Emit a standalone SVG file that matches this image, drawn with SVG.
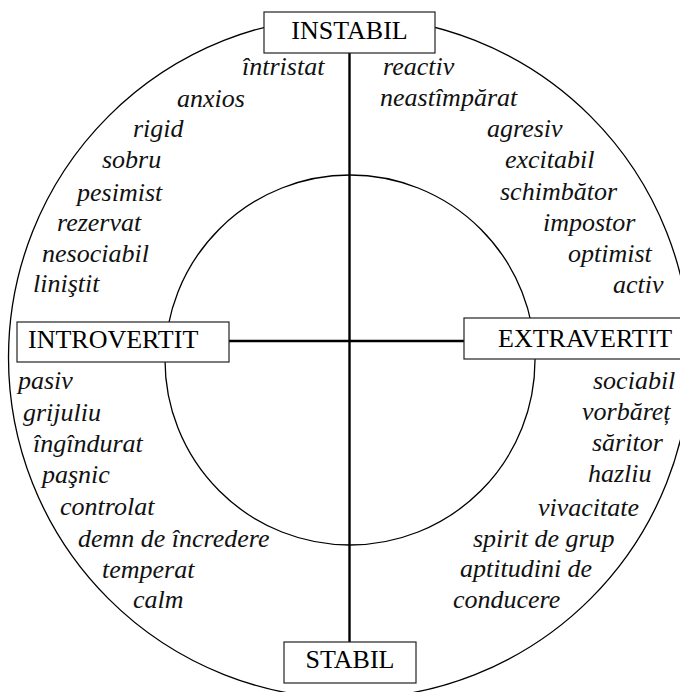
<svg xmlns="http://www.w3.org/2000/svg" width="680" height="692" viewBox="0 0 680 692">
<style>
.ring{fill:none;stroke:#000;stroke-width:1.3}
.box{fill:#fff;stroke:#222;stroke-width:1.2}
.axis{stroke:#000;stroke-width:2.4;fill:none}
.cap{font-family:"Liberation Serif","Times New Roman",serif;font-size:26px;fill:#000}
.w{font-family:"Liberation Serif","Times New Roman",serif;font-size:26px;font-style:italic;fill:#111}
</style>
<rect width="680" height="692" fill="#fff"/>
<g id="circles">
<circle class="ring" cx="349.5" cy="357.5" r="341"/>
<circle class="ring" cx="350" cy="360" r="185"/>
</g>
<g id="connectors">
<line class="axis" x1="349.5" y1="53" x2="349.5" y2="642"/>
<line class="axis" x1="229" y1="341" x2="464" y2="341"/>
</g>
<g id="instabil">
<rect class="box" x="264" y="12" width="171" height="41"/>
<text class="cap" x="349.5" y="39" text-anchor="middle">INSTABIL</text>
</g>
<g id="introvertit">
<rect class="box" x="17" y="322" width="212" height="40"/>
<text class="cap" x="28" y="348">INTROVERTIT</text>
</g>
<g id="extravertit">
<rect class="box" x="464" y="318" width="220" height="41"/>
<text class="cap" x="498" y="347">EXTRAVERTIT</text>
</g>
<g id="stabil">
<rect class="box" x="284" y="642" width="132" height="41"/>
<text class="cap" x="350" y="668" text-anchor="middle">STABIL</text>
</g>
<g id="words-instabil-introvertit">
<text class="w" x="242" y="75">întristat</text>
<text class="w" x="177" y="107">anxios</text>
<text class="w" x="133" y="137">rigid</text>
<text class="w" x="102" y="168">sobru</text>
<text class="w" x="77" y="201">pesimist</text>
<text class="w" x="57" y="231">rezervat</text>
<text class="w" x="42" y="262">nesociabil</text>
<text class="w" x="33" y="292">liniştit</text>
</g>
<g id="words-instabil-extravertit">
<text class="w" x="383" y="75">reactiv</text>
<text class="w" x="380" y="106">neastîmpărat</text>
<text class="w" x="487" y="137">agresiv</text>
<text class="w" x="505" y="168">excitabil</text>
<text class="w" x="500" y="200">schimbător</text>
<text class="w" x="543" y="231">impostor</text>
<text class="w" x="568" y="262">optimist</text>
<text class="w" x="613" y="293">activ</text>
</g>
<g id="words-stabil-introvertit">
<text class="w" x="18" y="389">pasiv</text>
<text class="w" x="23" y="421">grijuliu</text>
<text class="w" x="33" y="452">îngîndurat</text>
<text class="w" x="42" y="483">paşnic</text>
<text class="w" x="60" y="515">controlat</text>
<text class="w" x="78" y="547">demn de încredere</text>
<text class="w" x="102" y="578">temperat</text>
<text class="w" x="133" y="608">calm</text>
</g>
<g id="words-stabil-extravertit">
<text class="w" x="593" y="389">sociabil</text>
<text class="w" x="582" y="420">vorbăreț</text>
<text class="w" x="592" y="451">săritor</text>
<text class="w" x="588" y="482">hazliu</text>
<text class="w" x="538" y="516">vivacitate</text>
<text class="w" x="473" y="547">spirit de grup</text>
<text class="w" x="460" y="577">aptitudini de</text>
<text class="w" x="453" y="608">conducere</text>
</g>
</svg>
